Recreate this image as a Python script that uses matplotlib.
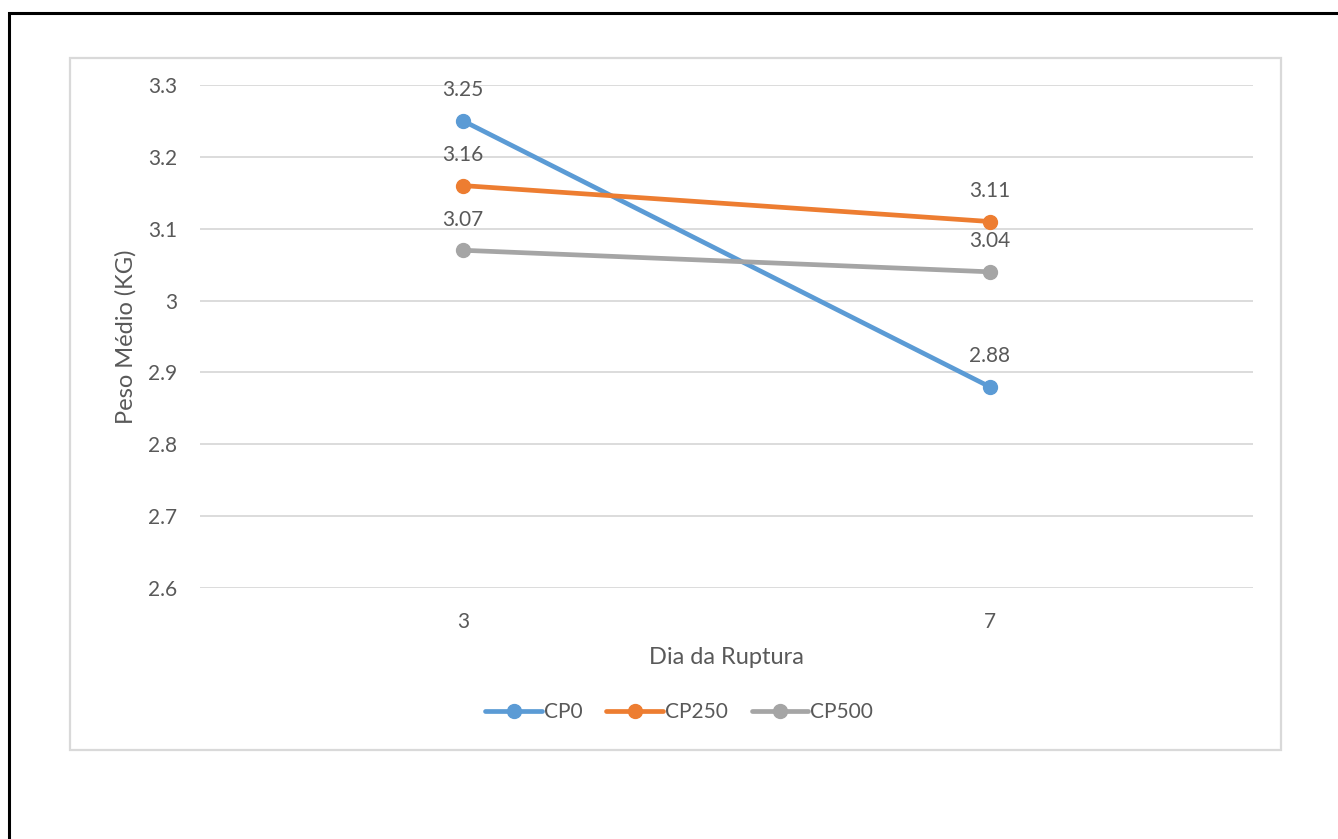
import matplotlib.pyplot as plt
from matplotlib.patches import Rectangle

dias = ["3", "7"]
cp0 = [3.25, 2.88]
cp250 = [3.16, 3.11]
cp500 = [3.07, 3.04]
series = [("CP0", cp0, "#5B9BD5"), ("CP250", cp250, "#ED7D31"), ("CP500", cp500, "#A5A5A5")]

W, H = 1338, 839
plt.rcParams['font.family'] = ['Lato', 'DejaVu Sans']
txt = "#595959"

fig = plt.figure(figsize=(W / 100, H / 100), dpi=100)

# outer black frame (only left/top visible) and light chart-area box
fig.add_artist(Rectangle((9 / W, -0.1), 1.2, 1 - 13 / H + 0.1, transform=fig.transFigure,
                         fill=False, edgecolor="black", linewidth=2.2))
fig.add_artist(Rectangle((70 / W, 1 - 750 / H), (1281 - 70) / W, (750 - 58) / H,
                         transform=fig.transFigure, fill=False, edgecolor="#D9D9D9", linewidth=1.6))

ax = fig.add_axes([200 / W, 1 - 588 / H, (1253 - 200) / W, (588 - 85) / H])
x = list(range(len(dias)))
for name, vals, col in series:
    ax.plot(x, vals, color=col, lw=3.4, marker="o", ms=10, label=name, solid_capstyle="round")
    for xi, v in zip(x, vals):
        ax.annotate(f"{v:.2f}", (xi, v), xytext=(0, 22), textcoords="offset points",
                    ha="center", va="center", fontsize=15, color=txt)

ax.set_xlim(-0.5, 1.5)
ax.set_ylim(2.6, 3.3)
ax.set_yticks([2.6, 2.7, 2.8, 2.9, 3.0, 3.1, 3.2, 3.3])
ax.set_yticklabels(["2.6", "2.7", "2.8", "2.9", "3", "3.1", "3.2", "3.3"])
ax.set_xticks(x)
ax.set_xticklabels(dias)
ax.tick_params(length=0, labelsize=15, labelcolor=txt)
ax.tick_params(axis="y", pad=16.5)
ax.tick_params(axis="x", pad=17)
ax.grid(axis="y", color="#D9D9D9", lw=1.3)
ax.set_axisbelow(True)
for s in ax.spines.values():
    s.set_visible(False)

ax.set_xlabel("Dia da Ruptura", fontsize=17, color=txt, labelpad=11)
ax.set_ylabel("Peso Médio (KG)", fontsize=17, color=txt, labelpad=8)

ax.legend(loc="center", bbox_to_anchor=(0.455, -0.247), ncol=3, frameon=False,
          fontsize=15, labelcolor=txt, handlelength=2.7, handletextpad=0.1, columnspacing=1.15)

fig.savefig("out.png", dpi=100)
